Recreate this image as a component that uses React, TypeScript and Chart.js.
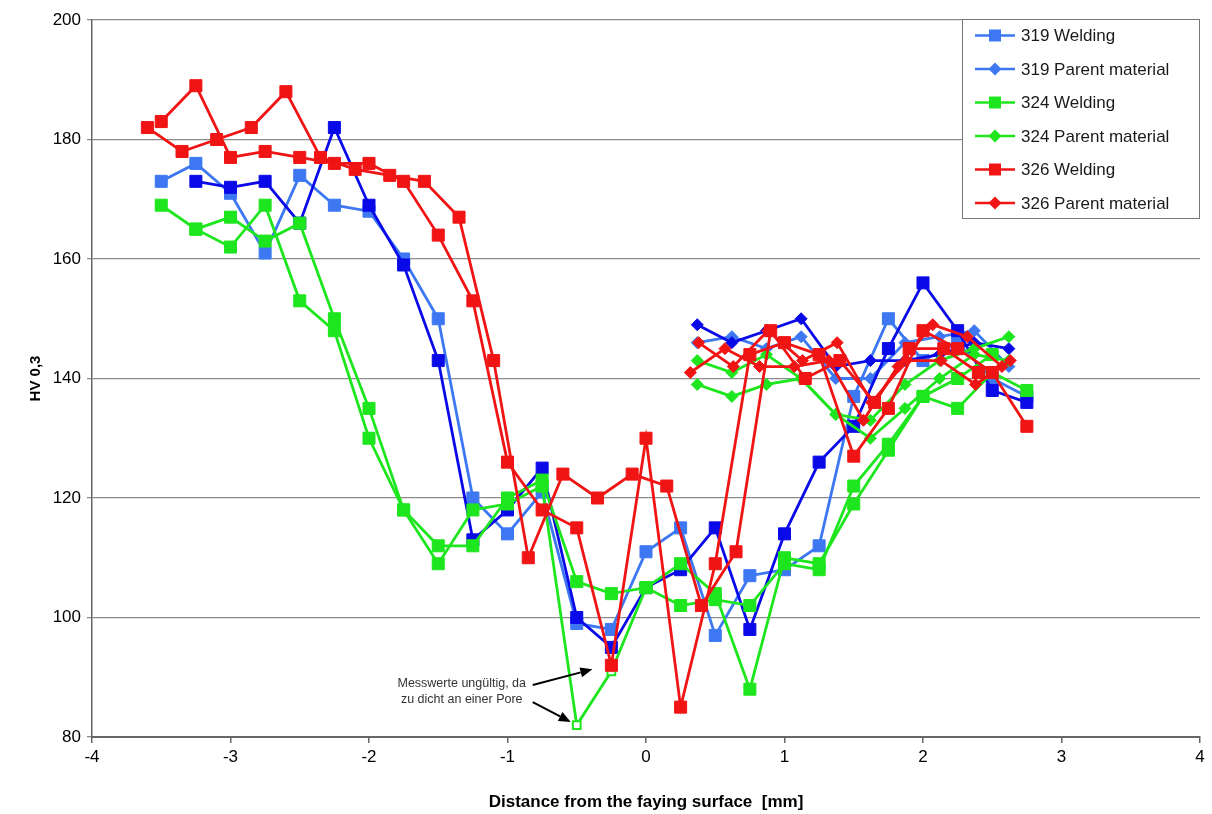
import React, { useEffect, useRef } from 'react';
import { Chart, registerables } from 'chart.js';

Chart.register(...registerables);

// Hardness profiles HV 0,3 across the joint, distance in mm from the faying surface.

// 319 Welding (two traverses)
const x319WeldDark = [-3.25, -3, -2.75, -2.5, -2.25, -2, -1.75, -1.5, -1.25, -1, -0.75, -0.5, -0.25, 0, 0.25, 0.5, 0.75, 1, 1.25, 1.5, 1.75, 2, 2.25, 2.5, 2.75];
const hv319WeldDark = [173, 172, 173, 166, 182, 169, 159, 143, 113, 118, 125, 100, 95, 105, 108, 115, 98, 114, 126, 132, 145, 156, 148, 138, 136];
const x319WeldLight = [-3.5, -3.25, -3, -2.75, -2.5, -2.25, -2, -1.75, -1.5, -1.25, -1, -0.75, -0.5, -0.25, 0, 0.25, 0.5, 0.75, 1, 1.25, 1.5, 1.75, 2, 2.25, 2.5, 2.75];
const hv319WeldLight = [173, 176, 171, 161, 174, 169, 168, 160, 150, 120, 114, 121, 99, 98, 111, 115, 97, 107, 108, 112, 137, 150, 143, 146, 140, 137];

// 319 Parent material
const x319Parent = [0.37, 0.62, 0.87, 1.12, 1.37, 1.62, 1.87, 2.12, 2.37, 2.62];
const hv319ParentDark = [149, 146, 148, 150, 142, 143, 143, 144, 146, 145];
const hv319ParentLight = [146, 147, 145, 147, 140, 140, 146, 147, 148, 142];

// 324 Welding (two traverses)
const x324WeldA = [-3.5, -3.25, -3, -2.75, -2.5, -2.25, -2, -1.75, -1.5, -1.25, -1, -0.75, -0.5, -0.25, 0, 0.25, 0.5, 0.75, 1, 1.25, 1.5, 1.75, 2, 2.25, 2.5, 2.75];
const hv324WeldA = [169, 165, 167, 163, 166, 150, 135, 118, 112, 112, 120, 123, 106, 104, 105, 102, 103, 102, 109, 108, 122, 129, 137, 135, 141, 138];
const x324WeldB = [-3.25, -3, -2.75, -2.5, -2.25, -2, -1.75, -1.5, -1.25, -1, -0.75, -0.5, -0.25, 0, 0.25, 0.5, 0.75, 1, 1.25, 1.5, 1.75, 2, 2.25, 2.5];
const hv324WeldB = [165, 162, 169, 153, 148, 130, 118, 109, 118, 119, 122, 82, 91, 105, 109, 104, 88, 110, 109, 119, 128, 137, 140, 144];
// invalid readings (too close to a pore), drawn as open squares
const x324Invalid = [-0.5, -0.25];

// 324 Parent material
const x324Parent = [0.37, 0.62, 0.87, 1.12, 1.37, 1.62, 1.87, 2.12, 2.37, 2.62];
const hv324ParentA = [143, 141, 144, 140, 134, 133, 139, 143, 145, 147];
const hv324ParentB = [139, 137, 139, 140, 134, 130, 135, 140, 144, 143];

// 326 Welding (two traverses)
const x326WeldA = [-3.6, -3.35, -3.1, -2.85, -2.6, -2.35, -2.1, -1.85, -1.6, -1.35, -1.1, -0.85, -0.6, -0.35, -0.1, 0.15, 0.4, 0.65, 0.9, 1.15, 1.4, 1.65, 1.9, 2.15, 2.4];
const hv326WeldA = [182, 178, 180, 182, 188, 177, 175, 174, 173, 167, 143, 110, 124, 120, 124, 122, 102, 111, 148, 140, 143, 136, 145, 145, 141];
const x326WeldB = [-3.5, -3.25, -3, -2.75, -2.5, -2.25, -2, -1.75, -1.5, -1.25, -1, -0.75, -0.5, -0.25, 0, 0.25, 0.5, 0.75, 1, 1.25, 1.5, 1.75, 2, 2.25, 2.5, 2.75];
const hv326WeldB = [183, 189, 177, 178, 177, 176, 176, 173, 164, 153, 126, 118, 115, 92, 130, 85, 109, 144, 146, 144, 127, 135, 148, 145, 141, 132];

// 326 Parent material
const x326ParentA = [0.32, 0.57, 0.82, 1.07, 1.32, 1.57, 1.82, 2.07, 2.32, 2.57];
const hv326ParentA = [141, 145, 142, 142, 143, 133, 142, 149, 147, 142];
const x326ParentB = [0.38, 0.63, 0.88, 1.13, 1.38, 1.63, 1.88, 2.13, 2.38, 2.63];
const hv326ParentB = [146, 142, 148, 143, 146, 136, 143, 143, 139, 143];

// Axis ranges and labels
const xRange = [-4, 4];
const yRange = [80, 200];
const xTitle = 'Distance from the faying surface  [mm]';
const yTitle = 'HV 0,3';
const noteLines = ['Messwerte ungültig, da', 'zu dicht an einer Pore'];

const legendLabels = ['319 Welding', '319 Parent material', '324 Welding', '324 Parent material', '326 Welding', '326 Parent material'];

const BLUE_LIGHT = '#3d78f2';
const BLUE_DARK = '#0a0ae8';
const GREEN = '#1ee61e';
const RED = '#f01414';
const FONT = '"Liberation Sans", Arial, Helvetica, sans-serif';

const legendColors = [BLUE_LIGHT, BLUE_LIGHT, GREEN, GREEN, RED, RED];
const legendMarkers = ['rect', 'rectRot', 'rect', 'rectRot', 'rect', 'rectRot'];

const pts = (xs: number[], ys: number[]) => xs.map((x, i) => ({ x, y: ys[i] }));

function weldSet(xs: number[], ys: number[], color: string, extra: any = {}) {
  return {
    data: pts(xs, ys),
    borderColor: color,
    backgroundColor: color,
    pointBackgroundColor: color,
    pointBorderColor: color,
    pointStyle: 'rect',
    pointRadius: 8.5,
    pointBorderWidth: 1,
    borderWidth: 2.8,
    tension: 0,
    ...extra,
  };
}

function parentSet(xs: number[], ys: number[], color: string) {
  return {
    data: pts(xs, ys),
    borderColor: color,
    backgroundColor: color,
    pointBackgroundColor: color,
    pointBorderColor: color,
    pointStyle: 'rectRot',
    pointRadius: 6,
    pointBorderWidth: 1,
    borderWidth: 2.8,
    tension: 0,
  };
}

function drawMarker(ctx: CanvasRenderingContext2D, style: string, x: number, y: number) {
  ctx.beginPath();
  if (style === 'rect') {
    ctx.rect(x - 6, y - 6, 12, 12);
  } else {
    ctx.moveTo(x, y - 6.5);
    ctx.lineTo(x + 6.5, y);
    ctx.lineTo(x, y + 6.5);
    ctx.lineTo(x - 6.5, y);
    ctx.closePath();
  }
  ctx.fill();
}

const legendBox = {
  id: 'legendBox',
  afterDraw(chart: any) {
    const { ctx, chartArea } = chart;
    const right = chartArea.right;
    const left = right - 238;
    const top = chartArea.top - 1;
    const h = 199;
    ctx.save();
    ctx.fillStyle = '#fff';
    ctx.fillRect(left, top, right - left, h);
    ctx.strokeStyle = '#777';
    ctx.lineWidth = 1;
    ctx.strokeRect(left + 0.5, top + 0.5, right - left - 1, h);
    ctx.font = `17px ${FONT}`;
    ctx.textBaseline = 'middle';
    legendLabels.forEach((label, i) => {
      const y = top + 16.5 + i * 33.5;
      ctx.strokeStyle = legendColors[i];
      ctx.fillStyle = legendColors[i];
      ctx.lineWidth = 2.6;
      ctx.beginPath();
      ctx.moveTo(left + 13, y);
      ctx.lineTo(left + 53, y);
      ctx.stroke();
      drawMarker(ctx, legendMarkers[i], left + 33, y);
      ctx.fillStyle = '#1a1a1a';
      ctx.fillText(label, left + 59, y + 1);
    });
    ctx.restore();
  },
};

function arrow(ctx: CanvasRenderingContext2D, x0: number, y0: number, x1: number, y1: number) {
  const ang = Math.atan2(y1 - y0, x1 - x0);
  const head = 12;
  const half = 5;
  const bx = x1 - head * Math.cos(ang);
  const by = y1 - head * Math.sin(ang);
  ctx.beginPath();
  ctx.moveTo(x0, y0);
  ctx.lineTo(bx, by);
  ctx.stroke();
  ctx.beginPath();
  ctx.moveTo(x1, y1);
  ctx.lineTo(bx + half * Math.sin(ang), by - half * Math.cos(ang));
  ctx.lineTo(bx - half * Math.sin(ang), by + half * Math.cos(ang));
  ctx.closePath();
  ctx.fill();
}

const poreNote = {
  id: 'poreNote',
  afterDatasetsDraw(chart: any) {
    const { ctx, scales } = chart;
    const i82 = x324WeldB.indexOf(x324Invalid[0]);
    const i91 = x324WeldB.indexOf(x324Invalid[1]);
    const pA = { x: scales.x.getPixelForValue(x324Invalid[0]), y: scales.y.getPixelForValue(hv324WeldB[i82]) };
    const pB = { x: scales.x.getPixelForValue(x324Invalid[1]), y: scales.y.getPixelForValue(hv324WeldB[i91]) };
    const cx = pA.x - 115;
    ctx.save();
    ctx.font = `12.5px ${FONT}`;
    ctx.fillStyle = '#333';
    ctx.textAlign = 'center';
    ctx.textBaseline = 'middle';
    ctx.fillText(noteLines[0], cx, pA.y - 42);
    ctx.fillText(noteLines[1], cx, pA.y - 26);
    ctx.strokeStyle = '#000';
    ctx.fillStyle = '#000';
    ctx.lineWidth = 2;
    arrow(ctx, pA.x - 44, pA.y - 40, pB.x - 19, pB.y - 2);
    arrow(ctx, pA.x - 44, pA.y - 23, pA.x - 6, pA.y - 3);
    ctx.restore();
  },
};

export default function App() {
  const canvasRef = useRef<HTMLCanvasElement | null>(null);

  useEffect(() => {
    document.body.style.margin = '0';
    const canvas = canvasRef.current;
    if (!canvas) return;

    const hollow = (xs: number[], base: string) => xs.map((x) => (x324Invalid.includes(x) ? '#ffffff' : base));
    const hollowR = (xs: number[]) => xs.map((x) => (x324Invalid.includes(x) ? 5.5 : 8.5));
    const hollowBW = (xs: number[]) => xs.map((x) => (x324Invalid.includes(x) ? 2 : 1));

    const datasets: any[] = [
      weldSet(x326WeldA, hv326WeldA, RED),
      weldSet(x326WeldB, hv326WeldB, RED),
      parentSet(x326ParentA, hv326ParentA, RED),
      parentSet(x326ParentB, hv326ParentB, RED),
      weldSet(x324WeldA, hv324WeldA, GREEN),
      weldSet(x324WeldB, hv324WeldB, GREEN, {
        pointBackgroundColor: hollow(x324WeldB, GREEN),
        pointRadius: hollowR(x324WeldB),
        pointBorderWidth: hollowBW(x324WeldB),
      }),
      parentSet(x324Parent, hv324ParentA, GREEN),
      parentSet(x324Parent, hv324ParentB, GREEN),
      weldSet(x319WeldDark, hv319WeldDark, BLUE_DARK),
      parentSet(x319Parent, hv319ParentDark, BLUE_DARK),
      weldSet(x319WeldLight, hv319WeldLight, BLUE_LIGHT),
      parentSet(x319Parent, hv319ParentLight, BLUE_LIGHT),
    ];

    const tickFont = { family: FONT, size: 17 };

    const chart = new Chart(canvas, {
      type: 'line',
      data: { datasets },
      options: {
        responsive: false,
        animation: false,
        events: [],
        layout: { padding: { top: 20, right: 12, left: 0, bottom: 0 } },
        plugins: { legend: { display: false }, tooltip: { enabled: false } },
        scales: {
          x: {
            type: 'linear',
            min: xRange[0],
            max: xRange[1],
            ticks: { stepSize: 1, font: tickFont, color: '#000', padding: 4 },
            grid: { drawOnChartArea: false, drawTicks: true, tickLength: 6, color: '#666', lineWidth: 1.5 },
            border: { color: '#666', width: 2 },
            title: {
              display: true,
              text: xTitle,
              color: '#000',
              font: { family: FONT, size: 17, weight: 'bold' },
              padding: { top: 0, bottom: 1 },
            },
            afterFit: (s: any) => {
              s.height = 77;
            },
          },
          y: {
            type: 'linear',
            min: yRange[0],
            max: yRange[1],
            ticks: { stepSize: 20, font: tickFont, color: '#000', padding: 6 },
            grid: { color: '#8c8c8c', lineWidth: 1.3, tickLength: 5 },
            border: { color: '#666', width: 1.5 },
            title: {
              display: true,
              text: yTitle,
              color: '#000',
              font: { family: FONT, size: 15, weight: 'bold' },
              padding: { top: 27, bottom: 0 },
            },
            afterFit: (s: any) => {
              s.width = 92;
            },
          },
        },
      } as any,
      plugins: [poreNote, legendBox],
    });

    return () => chart.destroy();
  }, []);

  return (
    <div style={{ width: 1212, height: 814, background: '#fff' }}>
      <canvas ref={canvasRef} width={1212} height={814} style={{ display: 'block' }} />
    </div>
  );
}
